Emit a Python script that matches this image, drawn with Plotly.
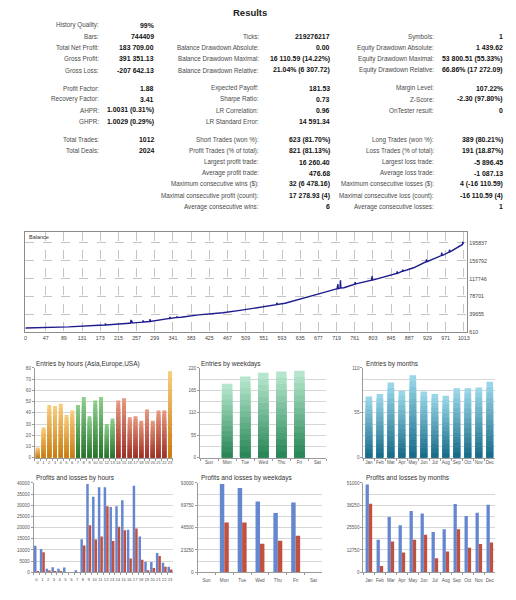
import plotly.graph_objects as go

W, H = 516, 600
def px(x): return x / W
def py(y): return 1 - y / H

# ---------------- data ----------------
row_y = [23.5, 34.8, 46.1, 57.4, 68.7, 86.8, 98.1, 109.4, 120.7, 138.8, 150.1, 161.4, 172.7, 184, 195.3, 206.6]

col1_labels = ["History Quality:", "Bars:", "Total Net Profit:", "Gross Profit:", "Gross Loss:",
               "Profit Factor:", "Recovery Factor:", "AHPR:", "GHPR:", "Total Trades:", "Total Deals:"]
col1_values = ["99%", "744409", "183 709.00", "391 351.13", "-207 642.13",
               "1.88", "3.41", "1.0031 (0.31%)", "1.0029 (0.29%)", "1012", "2024"]
col1_rows = [0, 1, 2, 3, 4, 5, 6, 7, 8, 9, 10]

col2_labels = ["Ticks:", "Balance Drawdown Absolute:", "Balance Drawdown Maximal:", "Balance Drawdown Relative:",
               "Expected Payoff:", "Sharpe Ratio:", "LR Correlation:", "LR Standard Error:",
               "Short Trades (won %):", "Profit Trades (% of total):", "Largest profit trade:",
               "Average profit trade:", "Maximum consecutive wins ($):", "Maximal consecutive profit (count):",
               "Average consecutive wins:"]
col2_values = ["219276217", "0.00", "16 110.59 (14.22%)", "21.04% (6 307.72)",
               "181.53", "0.73", "0.96", "14 591.34",
               "623 (81.70%)", "821 (81.13%)", "16 260.40",
               "476.68", "32 (6 478.16)", "17 278.93 (4)", "6"]
col2_rows = [1, 2, 3, 4, 5, 6, 7, 8, 9, 10, 11, 12, 13, 14, 15]

col3_labels = ["Symbols:", "Equity Drawdown Absolute:", "Equity Drawdown Maximal:", "Equity Drawdown Relative:",
               "Margin Level:", "Z-Score:", "OnTester result:",
               "Long Trades (won %):", "Loss Trades (% of total):", "Largest loss trade:",
               "Average loss trade:", "Maximum consecutive losses ($):", "Maximal consecutive loss (count):",
               "Average consecutive losses:"]
col3_values = ["1", "1 439.62", "53 800.51 (55.33%)", "66.86% (17 272.09)",
               "107.22%", "-2.30 (97.80%)", "0",
               "389 (80.21%)", "191 (18.87%)", "-5 896.45",
               "-1 087.13", "4 (-16 110.59)", "-16 110.59 (4)", "1"]
col3_rows = [1, 2, 3, 4, 5, 6, 7, 9, 10, 11, 12, 13, 14, 15]

trade_no = [0, 50, 100, 170, 184, 185, 186, 240, 243, 244, 245, 246, 247, 250, 271, 272, 273, 287, 288, 289,
            300, 333, 334, 335, 349, 350, 351, 360, 400, 456, 500, 556, 580, 581, 582, 600, 625, 680, 717,
            721, 722, 723, 727, 728, 729, 736, 761, 762, 763, 766, 800, 801, 802, 858, 859, 860, 871, 872, 873,
            897, 926, 927, 928, 931, 961, 962, 963, 965, 979, 980, 981, 1010, 1011, 1012]
balance = [10000, 11000, 12300, 15800, 16500, 19500, 16600, 20300, 20500, 27500, 20600, 26000, 20700, 21000,
           22800, 26300, 22900, 24000, 29000, 24100,
           26000, 30800, 33800, 30900, 32900, 35000, 33000, 33500, 38500, 43300, 49000, 57500, 61000, 65000, 61200,
           64000, 71000, 85000, 95000,
           96000, 106000, 96200, 97000, 114000, 97200, 98000, 105800, 110000, 106000, 106900, 114300, 123500, 114500,
           129200, 133500, 129400, 134000, 137500, 134300,
           141600, 154800, 160000, 155000, 156100, 168200, 175000, 168600, 169100, 175800, 181000, 176300,
           192600, 199000, 193709]
bal_ticks_x = [0, 47, 89, 131, 173, 215, 257, 299, 341, 383, 425, 467, 509, 551, 593, 635, 677, 719, 761,
               803, 845, 887, 929, 971, 1013]
bal_ticks_y = [610, 39655, 78701, 117746, 156792, 195837]

hour_labels = ["0", "1", "2", "3", "4", "5", "6", "7", "8", "9", "10", "11", "12", "13", "14", "15", "16",
               "17", "18", "19", "20", "21", "22", "23"]
hour_session = ["Asia"] * 7 + ["Europe"] * 7 + ["USA"] * 9 + ["Asia"]
entries_by_hour = [9, 27, 47, 46, 48, 38, 42, 47, 54, 37, 51, 54, 30, 35, 51, 53, 36, 37, 33, 43, 33, 42, 42, 77]

weekday_labels = ["Sun", "Mon", "Tue", "Wed", "Thu", "Fri", "Sat"]
entries_by_weekday = [0, 181, 199, 208, 211, 213, 0]

month_labels = ["Jan", "Feb", "Mar", "Apr", "May", "Jun", "Jul", "Aug", "Sep", "Oct", "Nov", "Dec"]
entries_by_month = [75, 78, 92, 82, 101, 81, 78, 76, 85, 85, 86, 93]

profit_by_hour = [11900, 10400, 1600, 2200, 1600, 2100, 0, 900, 14800, 39500, 33800, 38100, 38100, 29200,
                  29600, 32200, 19000, 38800, 16000, 4700, 4600, 8600, 4200, 2400]
loss_by_hour = [450, 8900, 750, 150, 150, 0, 0, 0, 12000, 21000, 14700, 16000, 29600, 14000,
                20400, 18800, 6200, 19600, 5600, 900, 1900, 7300, 2400, 1200]

profit_by_weekday = [0, 91970, 87830, 73700, 61650, 72680, 0]
loss_by_weekday = [0, 51670, 51670, 29620, 32720, 37890, 0]

profit_by_month = [50060, 18510, 31540, 26820, 34940, 33620, 23040, 24560, 38910, 32110, 34000, 38530]
loss_by_month = [39100, 3590, 17570, 11330, 18510, 21340, 7930, 11900, 24560, 13980, 16060, 17000]

# ---------------- styles ----------------
FONT = "Liberation Sans"
session_colors = {"Asia": ("#F6CB7A", "#C97F16"), "Europe": ("#8ACD8B", "#2A772F"), "USA": ("#E6967E", "#A03228")}
weekday_colors = ("#B5E6CD", "#2A8858")
month_colors = ("#9AD6E8", "#1A6D8A")
PROFIT_COLOR = "#6587D0"
LOSS_COLOR = "#C2503E"
GRID = "#d6d6d6"

def hex2rgb(h):
    h = h.lstrip("#")
    return tuple(int(h[i:i + 2], 16) for i in (0, 2, 4))

def mix(c1, c2, t):
    a, b = hex2rgb(c1), hex2rgb(c2)
    return "rgb(%d,%d,%d)" % tuple(round(a[i] + (b[i] - a[i]) * t) for i in range(3))

fig = go.Figure()

# ---------------- statistics text ----------------
ann = []
ann.append(dict(x=px(250), y=py(10.5), text="<b>Results</b>", font=dict(size=9.5, color="#222", family=FONT)))

def add_col(labels, values, rows, lx, vx):
    for lab, val, r in zip(labels, values, rows):
        ann.append(dict(x=px(lx), y=py(row_y[r]), text=lab, xanchor="right",
                        font=dict(size=6.3, color="#4a4a4a", family=FONT)))
        ann.append(dict(x=px(vx), y=py(row_y[r]), text="<b>%s</b>" % val, xanchor="right",
                        font=dict(size=6.9, color="#111", family=FONT)))

add_col(col1_labels, col1_values, col1_rows, 101, 156)
add_col(col2_labels, col2_values, col2_rows, 262, 333)
add_col(col3_labels, col3_values, col3_rows, 438, 507)

# ---------------- balance chart ----------------
fig.add_trace(go.Scatter(x=trade_no, y=balance, mode="lines", line=dict(color="#1d1d8e", width=1.4),
                         xaxis="x", yaxis="y", showlegend=False))
ann.append(dict(x=px(26), y=py(237), text="Balance", xanchor="left",
                font=dict(size=5.5, color="#333", family=FONT)))

# ---------------- small panels ----------------
def grad_bars(xa, ya, cats, vals, tops, bots, width, n=14):
    for k in range(n):
        f = 1 - k / n
        cols = [mix(t, b, k / (n - 1)) for t, b in zip(tops, bots)]
        fig.add_trace(go.Bar(x=cats, y=[v * f for v in vals], width=width, marker=dict(color=cols, line=dict(width=0)),
                             xaxis=xa, yaxis=ya, showlegend=False))

grad_bars("x2", "y2", hour_labels, entries_by_hour,
          [session_colors[s][0] for s in hour_session], [session_colors[s][1] for s in hour_session], 0.68)
grad_bars("x3", "y3", weekday_labels, entries_by_weekday,
          [weekday_colors[0]] * 7, [weekday_colors[1]] * 7, 0.58)
grad_bars("x4", "y4", month_labels, entries_by_month,
          [month_colors[0]] * 12, [month_colors[1]] * 12, 0.6)

def pl_bars(xa, ya, cats, prof, loss, w):
    fig.add_trace(go.Bar(x=cats, y=prof, width=w, offset=-w, marker=dict(color=PROFIT_COLOR, line=dict(width=0)),
                         xaxis=xa, yaxis=ya, showlegend=False))
    fig.add_trace(go.Bar(x=cats, y=loss, width=w, offset=0, marker=dict(color=LOSS_COLOR, line=dict(width=0)),
                         xaxis=xa, yaxis=ya, showlegend=False))

pl_bars("x5", "y5", hour_labels, profit_by_hour, loss_by_hour, 0.43)
pl_bars("x6", "y6", weekday_labels, profit_by_weekday, loss_by_weekday, 0.25)
pl_bars("x7", "y7", month_labels, profit_by_month, loss_by_month, 0.3)

panel_titles = [("Entries by hours (Asia,Europe,USA)", 33, 365), ("Entries by weekdays", 199, 365),
                ("Entries by months", 365, 365), ("Profits and losses by hours", 33, 480),
                ("Profits and losses by weekdays", 199, 480), ("Profits and losses by months", 365, 480)]
for t, x, y in panel_titles:
    ann.append(dict(x=px(x), y=py(y), text=t, xanchor="left", font=dict(size=6.5, color="#333", family=FONT)))

for a in ann:
    a.setdefault("xref", "paper"); a.setdefault("yref", "paper"); a.setdefault("showarrow", False)
    a.setdefault("yanchor", "middle")

tickf = dict(size=4.6, color="#555", family=FONT)

def cat_x(dom, cats, fsize=4.6, standoff=0):
    n = len(cats)
    return dict(domain=[px(dom[0]), px(dom[1])], range=[-0.5, n - 0.5], type="category", tickangle=0,
                tickmode="array", tickvals=cats, ticktext=cats, ticklabelstandoff=standoff,
                showgrid=False, showline=True, linecolor="#9a9a9a", linewidth=1, ticks="outside",
                tickson="boundaries", ticklen=2, tickcolor="#9a9a9a",
                tickfont=dict(size=fsize, color="#555", family=FONT), fixedrange=True)

def val_y(dom, rng, tickvals, minor):
    return dict(domain=[py(dom[1]), py(dom[0])], range=rng, tickvals=tickvals, tickformat="d",
                showgrid=True, gridcolor=GRID,
                gridwidth=1, zeroline=False, showline=True, linecolor="#9a9a9a", linewidth=1,
                ticks="outside", ticklen=2, tickcolor="#9a9a9a", tickfont=tickf,
                minor=dict(dtick=minor, showgrid=True, gridcolor=GRID, ticks=""), fixedrange=True)

row1 = (369, 459.5)
row2 = (485, 575)

layout = dict(
    width=W, height=H, margin=dict(l=0, r=0, t=0, b=0), autosize=False,
    paper_bgcolor="white", plot_bgcolor="white", barmode="overlay", showlegend=False,
    font=dict(family=FONT),
    xaxis=dict(domain=[px(24.5), px(469)], range=[0, 1021], tickvals=bal_ticks_x, tickangle=0, showgrid=True,
               gridcolor="#c4c4c4", griddash="dash", gridwidth=1, zeroline=False, showline=True, mirror=True,
               linecolor="#8c8c8c", linewidth=1, ticks="", tickfont=dict(size=5.3, color="#444", family=FONT),
               anchor="y", fixedrange=True),
    yaxis=dict(domain=[py(333), py(232)], range=[610, 219700], tickvals=bal_ticks_y, tickformat="d",
               side="right",
               showgrid=True, gridcolor="#c4c4c4", griddash="dash", gridwidth=1, zeroline=False,
               showline=True, mirror=True, linecolor="#8c8c8c", linewidth=1, ticks="",
               tickfont=dict(size=5.3, color="#444", family=FONT), anchor="x", fixedrange=True),
    xaxis2=dict(cat_x((34.1, 172.9), hour_labels, 4.2), anchor="y2"),
    yaxis2=dict(val_y(row1, [0, 80], [0, 10, 20, 30, 40, 50, 60, 70, 80], 10), anchor="x2"),
    xaxis3=dict(cat_x((200.2, 327.4), weekday_labels), anchor="y3"),
    yaxis3=dict(val_y(row1, [0, 220], [0, 55, 110, 165, 220], 27.5), anchor="x3"),
    xaxis4=dict(cat_x((364.5, 497.2), month_labels), anchor="y4"),
    yaxis4=dict(val_y(row1, [0, 110], [0, 55, 110], 13.75), anchor="x4"),
    xaxis5=dict(cat_x((32.8, 172.9), hour_labels, 4.2, 3), anchor="y5"),
    yaxis5=dict(val_y(row2, [0, 40000], [0, 5000, 10000, 15000, 20000, 25000, 30000, 35000, 40000], 5000),
                anchor="x5"),
    xaxis6=dict(cat_x((197.7, 323.3), weekday_labels, 4.6, 3), anchor="y6"),
    yaxis6=dict(val_y(row2, [0, 93000], [0, 23250, 46500, 69750, 93000], 11625), anchor="x6"),
    xaxis7=dict(cat_x((364.5, 497.2), month_labels, 4.6, 3), anchor="y7"),
    yaxis7=dict(val_y(row2, [0, 51000], [0, 12750, 25500, 38250, 51000], 6375), anchor="x7"),
    annotations=ann,
)
fig.update_layout(**layout)
fig.write_html("out.html", config={"displayModeBar": False},
               post_script="document.body.style.margin='0';document.body.style.overflow='hidden';")
